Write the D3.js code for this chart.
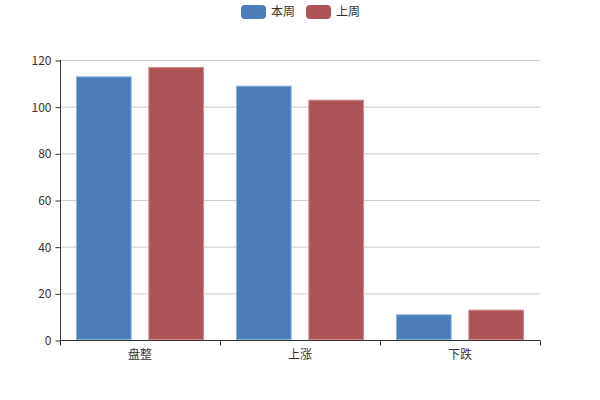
<!DOCTYPE html>
<html>
  <head>
    <meta charset="utf-8">
    <script src="https://d3js.org/d3.v7.min.js"></script>
    <style>
      body { margin: 0; background: #fff; }
      text { font-family: "Noto Sans CJK SC", "DejaVu Sans", sans-serif; font-size: 12px; fill: #333; }
    </style>
  </head>
  <body>
    <svg width="600" height="400"></svg>
    <script>
      var categories = ["盘整", "上涨", "下跌"];
      var seriesNames = ["本周", "上周"];
      var thisWeek = [113, 109, 11];
      var lastWeek = [117, 103, 13];
      var yTicks = [0, 20, 40, 60, 80, 100, 120];

      var colors = ["#4b7dba", "#ae5457"];
      var strokes = ["#8bb0dd", "#d28a8c"];

      var svg = d3.select("svg");
      var plotLeft = 60, plotRight = 540, plotTop = 60, plotBottom = 340;

      var x = d3.scaleBand().domain(categories).range([plotLeft, plotRight]);
      // bars: 20% category gap, 30% gap between bars
      var groupW = x.bandwidth() * 0.8;
      var barW = groupW / 2.3;
      var y = d3.scaleLinear().domain([0, 120]).range([plotBottom, plotTop]);

      // grid
      svg.append("g").selectAll("line").data(yTicks.slice(1)).enter().append("line")
        .attr("x1", plotLeft).attr("x2", plotRight)
        .attr("y1", d => y(d) + 0.5).attr("y2", d => y(d) + 0.5)
        .attr("stroke", "#ccc");

      var data = [thisWeek, lastWeek];
      data.forEach(function (vals, si) {
        svg.append("g").selectAll("rect").data(vals).enter().append("rect")
          .attr("x", (d, i) => x(categories[i]) + x.bandwidth() * 0.1 + si * barW * 1.3 + 0.5)
          .attr("y", d => y(d) + 0.5)
          .attr("width", barW - 1)
          .attr("height", d => y(0) - y(d) - 1)
          .attr("fill", colors[si])
          .attr("stroke", strokes[si])
          .attr("stroke-width", 1);
      });

      var yAxis = d3.axisLeft(y).tickValues(yTicks).tickSize(5).tickPadding(4);
      var yg = svg.append("g").attr("transform", "translate(" + (plotLeft + 0.5) + ",0.5)").call(yAxis);
      yg.selectAll("line, path").attr("stroke", "#333");
      yg.select("path").attr("d", "M0," + (plotTop - 0.5) + "V" + (plotBottom - 0.5));
      yg.selectAll("text").style("font-size", "12px");

      var xAxis = d3.axisBottom(x).tickSize(0).tickPadding(10);
      var xg = svg.append("g").attr("transform", "translate(0," + (plotBottom + 0.5) + ")").call(xAxis);
      xg.select("path").attr("stroke", "#333").attr("d", "M" + plotLeft + ",0H" + plotRight);
      xg.selectAll("text").attr("dy", "0.71em").style("font-size", "12px");
      var bounds = categories.map(c => x(c)).concat([plotRight]);
      xg.append("g").selectAll("line").data(bounds).enter().append("line")
        .attr("x1", d => Math.round(d) + 0.5).attr("x2", d => Math.round(d) + 0.5)
        .attr("y1", 0).attr("y2", 5).attr("stroke", "#333");

      // legend
      var legend = svg.append("g");
      var lx = [241, 306];
      seriesNames.forEach(function (name, i) {
        legend.append("rect").attr("x", lx[i]).attr("y", 5).attr("width", 25).attr("height", 14)
          .attr("rx", 4).attr("fill", colors[i]);
        legend.append("text").attr("x", lx[i] + 30).attr("y", 12).attr("dy", "0.35em").text(name);
      });
    </script>
  </body>
</html>
